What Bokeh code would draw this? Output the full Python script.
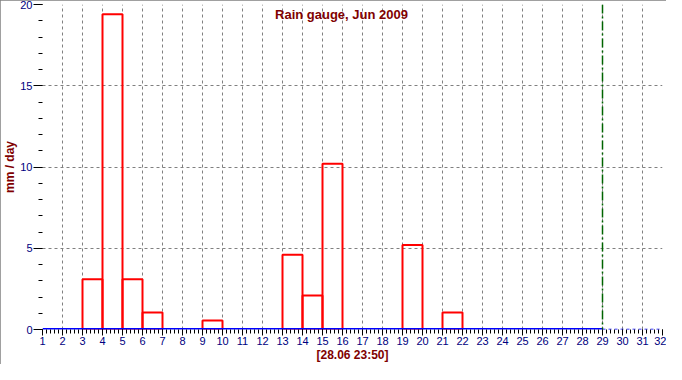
from bokeh.plotting import figure
from bokeh.models import FixedTicker, Label, Span
from bokeh.embed import file_html
from bokeh.resources import INLINE

# Data
days = [3, 4, 5, 6, 9, 13, 14, 15, 19, 21]
rain_mm = [3.1, 19.4, 3.1, 1.05, 0.55, 4.6, 2.1, 10.2, 5.2, 1.05]
x_ticks = list(range(1, 33))
y_ticks = [0, 5, 10, 15, 20]
now_day = 29
title_text = "Rain gauge, Jun 2009"
x_label = "[28.06 23:50]"
y_label = "mm / day"

FONT = "Liberation Sans"
DARKRED = "#800000"
NAVY = "#000080"

p = figure(width=666, height=364, x_range=(1, 32), y_range=(0, 20),
           output_backend="svg", toolbar_location=None,
           min_border_left=10, min_border_right=4, min_border_top=4, min_border_bottom=10)
p.styles = {"outline": "2px solid #808080", "outline-offset": "-2px"}
p.outline_line_color = None
p.background_fill_color = "white"
p.border_fill_color = "white"

# grids
p.xgrid.ticker = FixedTicker(ticks=list(range(2, 32)))
p.ygrid.ticker = FixedTicker(ticks=[5, 10, 15])
for g in (p.xgrid, p.ygrid):
    g.grid_line_color = "#808080"
    g.grid_line_dash = "3 3"
    g.grid_line_width = 1

# axes
xa = p.xaxis[0]
xa.ticker = FixedTicker(ticks=x_ticks,
                        minor_ticks=[1 + i * 0.2 for i in range(156)])
xa.axis_line_color = None
xa.major_tick_line_color = "black"
xa.minor_tick_line_color = "black"
xa.major_tick_out = 6
xa.major_tick_in = 0
xa.minor_tick_out = 4
xa.minor_tick_in = 0
xa.major_label_standoff = 1
xa.major_label_text_color = NAVY
xa.major_label_text_font = FONT
xa.major_label_text_font_size = "11px"
xa.axis_label = x_label
xa.axis_label_standoff = 0
xa.axis_label_text_color = DARKRED
xa.axis_label_text_font = FONT
xa.axis_label_text_font_style = "bold"
xa.axis_label_text_font_size = "12px"

ya = p.yaxis[0]
ya.ticker = FixedTicker(ticks=y_ticks, minor_ticks=list(range(0, 21)))
ya.axis_line_color = None
ya.major_tick_line_color = "black"
ya.minor_tick_line_color = "black"
ya.major_tick_out = 9
ya.major_tick_in = 0
ya.minor_tick_out = 4
ya.minor_tick_in = 0
ya.major_label_standoff = 1
ya.major_label_text_color = NAVY
ya.major_label_text_font = FONT
ya.major_label_text_font_size = "11px"
ya.axis_label = y_label
ya.axis_label_standoff = 0
ya.axis_label_text_color = DARKRED
ya.axis_label_text_font = FONT
ya.axis_label_text_font_style = "bold"
ya.axis_label_text_font_size = "12px"

# bars (outline only)
p.quad(left=days, right=[d + 1 for d in days], bottom=0, top=rain_mm,
       fill_color=None, line_color="red", line_width=2)

# baseline
p.line([x_ticks[0], now_day], [0, 0], line_color="blue", line_width=3)
p.line([now_day, x_ticks[-1]], [0, 0], line_color="blue", line_width=1.5,
       line_dash="3 3")

# current time marker
p.add_layout(Span(location=now_day, dimension="height", line_color="#006400",
                  line_width=1.5, line_dash="9 3 2 3"))

# title inside plot
p.add_layout(Label(x=15.95, y=20, y_offset=-2, text=title_text, text_align="center",
                   text_baseline="top", text_color=DARKRED, text_font=FONT,
                   text_font_style="bold", text_font_size="13px"))

open("out.html", "w").write(file_html(p, INLINE))
